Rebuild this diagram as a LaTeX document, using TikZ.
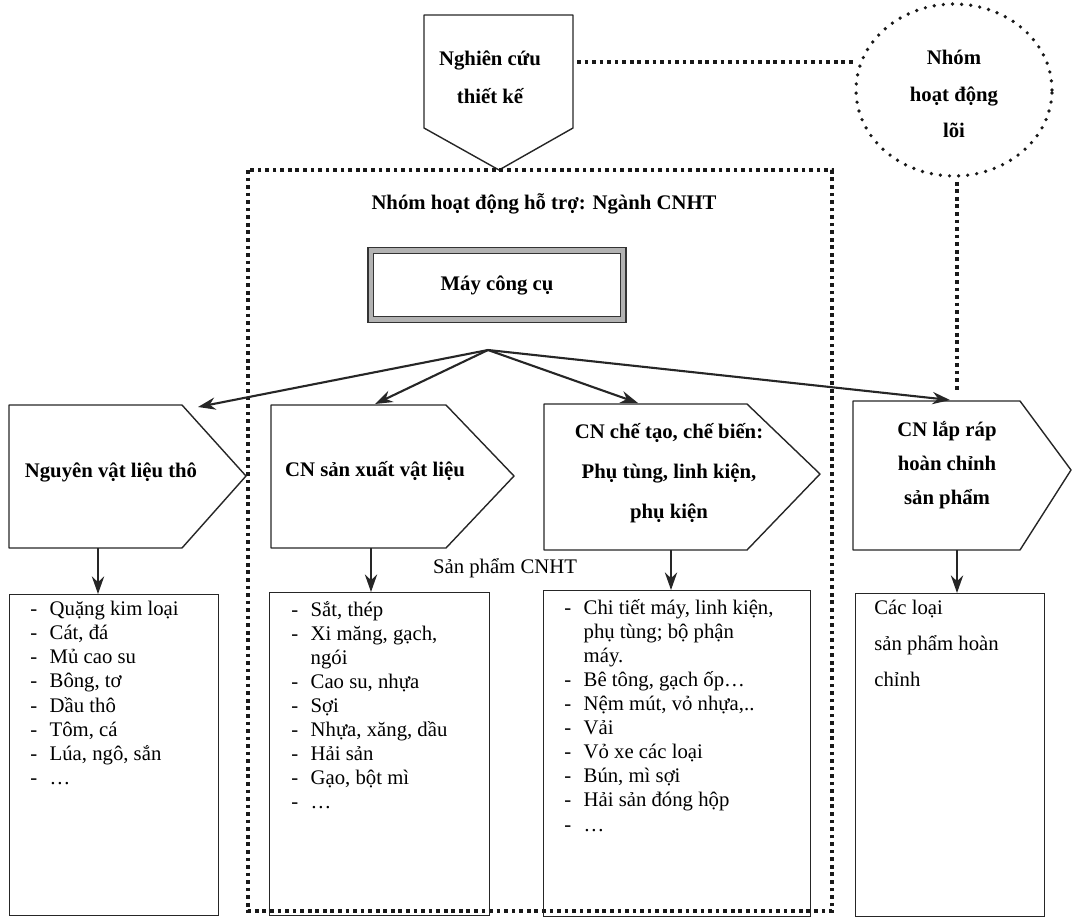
\documentclass[tikz,border=0pt]{standalone}
\usepackage{fontspec}
\setmainfont{Liberation Serif}
\usetikzlibrary{arrows.meta,shapes.geometric}
\tikzset{
  ln/.style={draw=black!85, line width=0.8pt, line join=round},
  conn/.style={draw=black!85, line width=1.2pt, -{Stealth[length=10pt,width=7pt]}},
  dotline/.style={draw=black!90, line width=2.1pt, dash pattern=on 2.1pt off 2.2pt},
  corering/.style={ellipse, draw=black!90, line width=2.1pt, line cap=round, dash pattern=on 0pt off 5.2pt,
    minimum width=3.92cm, minimum height=3.44cm, inner sep=0pt},
  head/.style={font=\bfseries\fontsize{11.8}{21}\selectfont, align=center, inner sep=0pt},
  plain/.style={font=\fontsize{11.8}{14}\selectfont, inner sep=0pt},
  listtxt/.style={font=\fontsize{11.8}{13.7}\selectfont, align=left, inner sep=0pt, anchor=north west,
    execute at begin node=\rule{0pt}{12pt}},
  listbox/.style={draw=black!85, line width=0.8pt, anchor=north west, inner sep=0pt},
  toolbox/.style={draw=black!80, line width=0.7pt, double=gray!60, double distance=2.4pt,
    minimum width=5.05cm, minimum height=1.38cm, inner sep=0pt}
}
\newcommand{\dashit}{\makebox[11pt][l]{-}}
\newcommand{\contit}{\hspace*{11pt}}
\begin{document}
\begin{tikzpicture}[x=0.02cm, y=-0.02cm]
\useasboundingbox (0,0) rectangle (1074,923);
% top: research and core group
\draw[ln] (424,15) -- (573,15) -- (573,128) -- (499,170) -- (424,128) -- cycle;
\node[head, font=\bfseries\fontsize{11.8}{21.5}\selectfont] (research) at (490,77) {Nghiên cứu\\thiết kế};
\node[corering] (core) at (954,90) {};
\node[head, font=\bfseries\fontsize{11.8}{20.7}\selectfont] (coretxt) at (954,94) {Nhóm\\hoạt động\\lõi};
\coordinate (rsE) at (577,62);
\draw[dotline] (rsE) -- (rsE -| core.west);
\coordinate (coreEnd) at (957,392);
\draw[dotline] (core.south -| coreEnd) ++(0,4) -- (coreEnd);
% support group frame
\draw[dotline] (248,170) rectangle (832,911);
\node[head] (support) at (544,204) {Nhóm hoạt động hỗ trợ: Ngành CNHT};
\node[toolbox, font=\bfseries\fontsize{11.8}{14}\selectfont] (tool) at (497,285) {Máy công cụ};
\coordinate (hub) at (488,350);
% row of industries
\draw[ln] (9,405) -- (182,405) -- (246,476) -- (182,548) -- (9,548) -- cycle;
\draw[ln] (271,405) -- (446,405) -- (514,476) -- (446,548) -- (271,548) -- cycle;
\draw[ln] (544,404) -- (747,404) -- (820,474) -- (747,550) -- (544,550) -- cycle;
\draw[ln] (853,401) -- (1020,401) -- (1071,470) -- (1020,550) -- (853,550) -- cycle;
\node[head] (raw) at (111,472) {Nguyên vật liệu thô};
\node[head] (mat) at (375,471) {CN sản xuất vật liệu};
\node[head, font=\bfseries\fontsize{11.8}{22.7}\selectfont] (manu) at (669,473) {CN chế tạo, chế biến:\\Phụ tùng, linh kiện,\\phụ kiện};
\node[head, font=\bfseries\fontsize{11.8}{19.3}\selectfont] (assy) at (947,465) {CN lắp ráp\\hoàn chỉnh\\sản phẩm};
\coordinate (p1top) at (198,407);
\coordinate (p2top) at (375,404);
\coordinate (p3top) at (638,403);
\coordinate (p4top) at (950,400);
\draw[conn] (hub) -- (p1top);
\draw[conn] (hub) -- (p2top);
\draw[conn] (hub) -- (p3top);
\draw[conn] (hub) -- (p4top);
% product lists
\node[listbox, minimum width=4.18cm, minimum height=6.42cm] (b1) at (9,594) {};
\node[listbox, minimum width=4.4cm, minimum height=6.46cm] (b2) at (269,592) {};
\node[listbox, minimum width=5.34cm, minimum height=6.52cm] (b3) at (543,590) {};
\node[listbox, minimum width=3.78cm, minimum height=6.46cm] (b4) at (855,593) {};
\coordinate (p1bot) at (98,548);
\coordinate (p2bot) at (371,548);
\coordinate (p3bot) at (671,550);
\coordinate (p4bot) at (957,550);
\draw[conn] (p1bot) -- (p1bot |- b1.north);
\draw[conn] (p2bot) -- (p2bot |- b2.north);
\draw[conn] (p3bot) -- (p3bot |- b3.north);
\draw[conn] (p4bot) -- (p4bot |- b4.north);
\node[plain] (prod) at (505,568) {Sản phẩm CNHT};
\node[listtxt] (l1) at (30,601) {\dashit Quặng kim loại\\\dashit Cát, đá\\\dashit Mủ cao su\\\dashit Bông, tơ\\\dashit Dầu thô\\\dashit Tôm, cá\\\dashit Lúa, ngô, sắn\\\dashit …};
\node[listtxt] (l2) at (291,601) {\dashit Sắt, thép\\\dashit Xi măng, gạch,\\\contit ngói\\\dashit Cao su, nhựa\\\dashit Sợi\\\dashit Nhựa, xăng, dầu\\\dashit Hải sản\\\dashit Gạo, bột mì\\\dashit …};
\node[listtxt] (l3) at (564,599) {\dashit Chi tiết máy, linh kiện,\\\contit phụ tùng; bộ phận\\\contit máy.\\\dashit Bê tông, gạch ốp…\\\dashit Nệm mút, vỏ nhựa,..\\\dashit Vải\\\dashit Vỏ xe các loại\\\dashit Bún, mì sợi\\\dashit Hải sản đóng hộp\\\dashit …};
\node[listtxt, font=\fontsize{11.8}{20.4}\selectfont] (l4) at (874,600) {Các loại\\sản phẩm hoàn\\chỉnh};
\end{tikzpicture}
\end{document}
